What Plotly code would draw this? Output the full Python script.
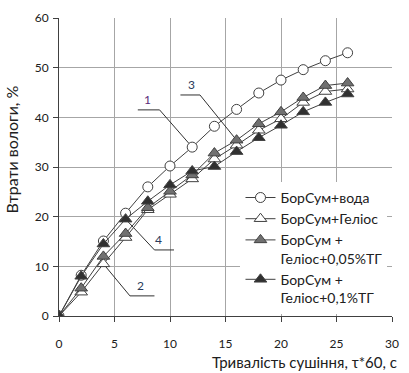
import plotly.graph_objects as go

time_min = [0, 2, 4, 6, 8, 10, 12, 14, 16, 18, 20, 22, 24, 26]
water = [0, 8.2, 15.1, 20.7, 26.0, 30.2, 34.0, 38.2, 41.6, 44.9, 47.5, 49.6, 51.4, 53.0]
helios = [0, 4.8, 10.5, 15.8, 21.4, 24.5, 27.6, 31.6, 34.4, 37.4, 39.7, 43.0, 45.2, 45.7]
helios_005 = [0, 5.6, 12.0, 16.6, 21.8, 25.1, 28.4, 32.8, 35.4, 38.7, 41.1, 44.0, 46.4, 46.9]
helios_01 = [0, 8.0, 14.5, 19.5, 23.1, 26.4, 29.2, 30.1, 33.1, 35.9, 38.4, 41.1, 43.0, 44.7]

names = ["БорСум+вода", "БорСум+Геліос", "БорСум +<br>Геліос+0,05%ТГ", "БорСум +<br>Геліос+0,1%ТГ"]

x_ticks = [0, 5, 10, 15, 20, 25, 30]
y_ticks = [0, 10, 20, 30, 40, 50, 60]

# curve number labels with leader lines (data coords)
label_text = ["1", "2", "3", "4"]
label_x = [8.0, 7.3, 11.9, 9.0]
label_y = [43.6, 6.1, 46.6, 15.4]
label_color = ["#5b2b7a", "#2a3a5a", "#2a3a5a", "#2a3a5a"]
leader_x = [[7.1, 9.06, 12.0], [4.0, 6.39, 8.6], [10.94, 12.7, 16.0], [6.0, 8.6, 10.36]]
leader_y = [[41.5, 41.5, 34.0], [10.5, 4.05, 4.05], [44.5, 44.5, 35.4], [19.5, 13.3, 13.3]]

FONT = "Lato, 'Open Sans', sans-serif"
LINE = "#404040"

fig = go.Figure()

for lx, ly in zip(leader_x, leader_y):
    fig.add_trace(go.Scatter(x=lx, y=ly, mode="lines", line=dict(color="#303030", width=1),
                             showlegend=False, hoverinfo="skip"))

series = [water, helios, helios_005, helios_01]
symbols = ["circle", "triangle-up", "triangle-up", "triangle-up"]
fills = ["white", "white", "#707070", "#303030"]
for name, ys, sym, fc in zip(names, series, symbols, fills):
    fig.add_trace(go.Scatter(
        x=time_min, y=ys, name=name, mode="lines+markers",
        line=dict(color=LINE, width=1),
        marker=dict(symbol=sym, size=10 if sym == "circle" else 11, color=fc,
                    line=dict(color=LINE, width=1)),
    ))

for t, x, y, c in zip(label_text, label_x, label_y, label_color):
    fig.add_annotation(x=x, y=y, text=t, showarrow=False,
                       font=dict(family=FONT, size=12, color=c))

fig.add_annotation(xref="paper", yref="paper", x=1.02, y=-0.153, xanchor="right", yanchor="middle",
                   text="Тривалість сушіння, τ*60, с", showarrow=False,
                   font=dict(family=FONT, size=15, color="#202020"))
fig.add_annotation(xref="paper", yref="paper", x=-0.142, y=0.558, xanchor="center", yanchor="middle",
                   text="Втрати вологи, %", textangle=-90, showarrow=False,
                   font=dict(family=FONT, size=16, color="#202020"))

fig.update_xaxes(range=[0, 30], tickvals=x_ticks, showgrid=True, gridcolor="#a6a6a6", gridwidth=1,
                 showline=True, linecolor="#404040", linewidth=1, ticks="outside", ticklen=5,
                 tickcolor="#404040", zeroline=False,
                 tickfont=dict(family=FONT, size=12, color="#202020"), ticklabelstandoff=12)
fig.update_yaxes(range=[0, 60], tickvals=y_ticks, showgrid=True, gridcolor="#a6a6a6", gridwidth=1,
                 showline=True, linecolor="#404040", linewidth=1, ticks="outside", ticklen=5,
                 tickcolor="#404040", zeroline=False,
                 tickfont=dict(family=FONT, size=12, color="#202020"), ticklabelstandoff=2)

fig.update_layout(
    width=409, height=373,
    margin=dict(l=59, r=10, t=15, b=57),
    plot_bgcolor="white", paper_bgcolor="white",
    legend=dict(x=0.545, y=0.45, xanchor="left", yanchor="top", bgcolor="white",
                font=dict(family=FONT, size=14, color="#202020"), itemwidth=30,
                valign="top", tracegroupgap=0),
)

fig.write_html("out.html")
